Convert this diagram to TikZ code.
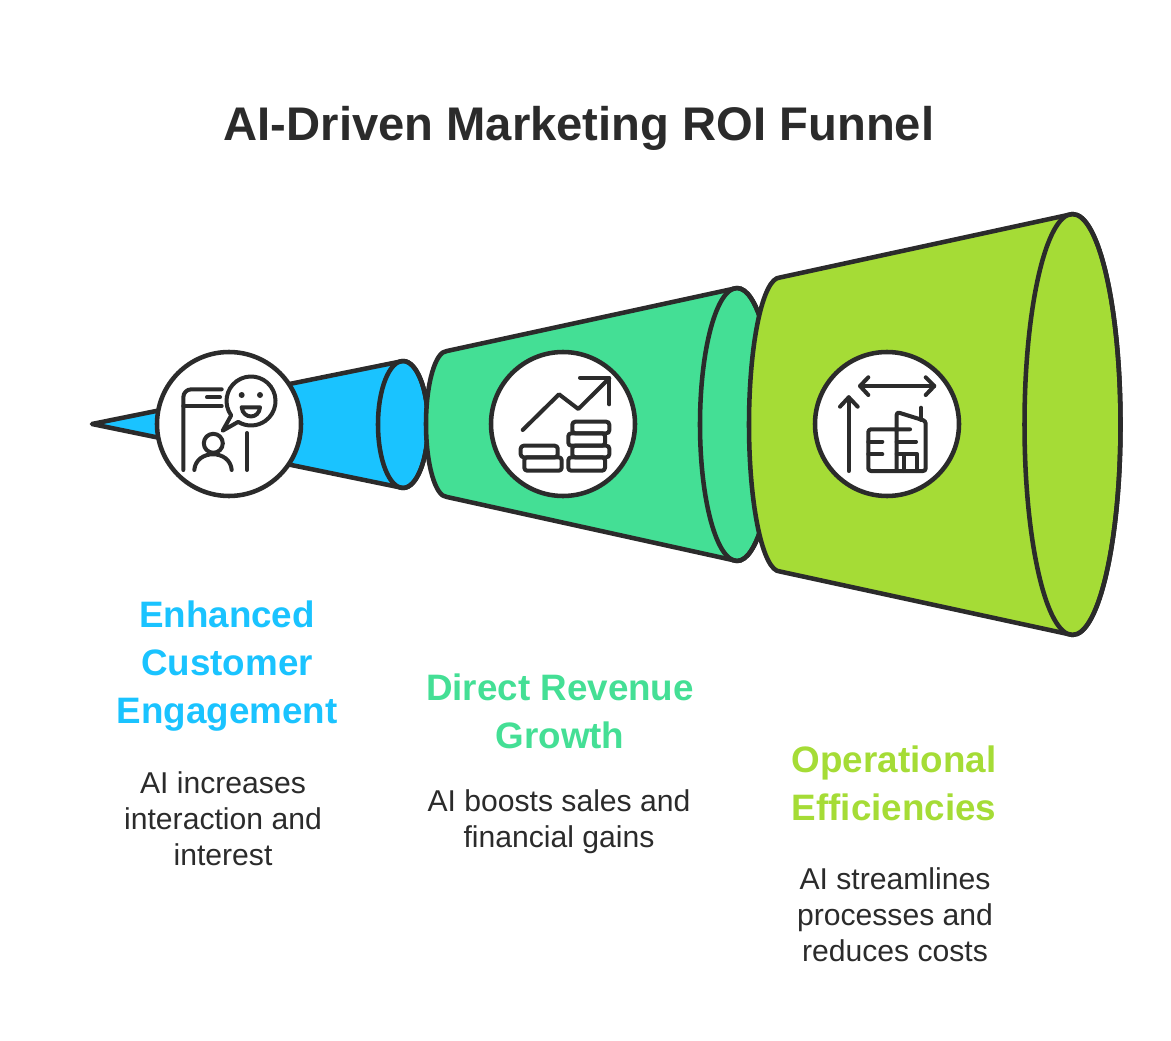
\documentclass[tikz,border=0pt]{standalone}
\usepackage{fontspec}
\setmainfont{Liberation Sans}
\definecolor{inkc}{HTML}{2B2B2B}
\definecolor{bluec}{HTML}{1AC3FF}
\definecolor{mintc}{HTML}{44DF95}
\definecolor{limec}{HTML}{A5DC36}
\tikzset{
  funnel/.style={draw=inkc,line width=3.4pt,line join=round},
  badge/.style={circle,fill=white,draw=inkc,line width=3.4pt,minimum size=108pt,inner sep=0pt},
  icon/.style={draw=inkc,line width=3pt,line cap=round,line join=round},
  coin/.style={icon,rounded corners=2.2pt},
  heading/.style={font=\bfseries\fontsize{27.6}{36}\selectfont,align=center},
  body/.style={text=inkc,font=\fontsize{22.6}{27}\selectfont,align=center},
}
\begin{document}
\begin{tikzpicture}[x=0.75pt,y=-0.75pt]
  \useasboundingbox (0,0) rectangle (1171,1041);
  \node[text=inkc,font=\bfseries\fontsize{35.4}{44}\selectfont] (title) at (579,128) {AI-Driven Marketing ROI Funnel};
  % first funnel part
  \draw[funnel,fill=bluec] (92,424) -- (403,361) arc[start angle=-90,end angle=90,x radius=25,y radius=63.5] -- cycle;
  \draw[funnel] (403,424.5) ellipse[x radius=25,y radius=63.5];
  % second funnel part
  \draw[funnel,fill=mintc] (447,497) arc[start angle=90,end angle=270,x radius=21,y radius=73] -- (737,288) arc[start angle=-90,end angle=90,x radius=37,y radius=136.5] -- cycle;
  \draw[funnel] (737,424.5) ellipse[x radius=37,y radius=136.5];
  % third funnel part
  \draw[funnel,fill=limec] (780,571.5) arc[start angle=90,end angle=270,x radius=31,y radius=147] -- (1072.5,214) arc[start angle=-90,end angle=90,x radius=48,y radius=210.5] -- cycle;
  \draw[funnel] (1072.5,424.5) ellipse[x radius=48,y radius=210.5];
  \node[badge] (engage) at (229,424) {};
  \node[badge] (revenue) at (563,424) {};
  \node[badge] (effic) at (887,424) {};
  % phone, person, speech bubble
  \draw[icon,rounded corners=6pt] (183.3,470) -- (183.3,389.3) -- (221.7,389.3);
  \draw[icon] (183.3,406) -- (221.7,406);
  \draw[icon] (207,397.3) -- (220,397.3);
  \draw[icon] (247,433) -- (247,470);
  \draw[icon] (213.3,443.3) circle[radius=9.5];
  \draw[icon] (194.3,470) .. controls (196,449) and (230,449) .. (231.7,470);
  \draw[icon] (231.2,415.4) arc[start angle=144,end angle=481.6,radius=24.5] -- (222.7,430.7) -- cycle;
  \fill[inkc] (241.7,395) circle[radius=3];
  \fill[inkc] (260,395) circle[radius=3];
  \draw[icon] (241.7,407.3) -- (260,407.3) .. controls (259,419.5) and (243,419.5) .. (241.7,407.3);
  % growth line and coins
  \draw[icon] (522.7,430) -- (559,394.3) -- (578.3,409) -- (609.3,378.3);
  \draw[icon] (580,377.7) -- (609.3,377.7) -- (609.3,404.3);
  \draw[coin] (572.3,421.7) rectangle (609.3,433.3);
  \draw[coin] (568.3,433.3) rectangle (605,445.7);
  \draw[coin] (572.3,445.7) rectangle (609.3,457.3);
  \draw[coin] (568.3,457.3) rectangle (605,470.7);
  \draw[coin] (520.7,445.7) rectangle (557.7,457.3);
  \draw[coin] (524.3,457.3) rectangle (561.7,470.7);
  % arrows and building
  \draw[icon] (848.7,471) -- (848.7,397.3);
  \draw[icon] (840,406.7) -- (848.7,397.3) -- (857.7,406.7);
  \draw[icon] (860,386) -- (934.3,386);
  \draw[icon] (868.3,377.3) -- (860,386) -- (868.3,395);
  \draw[icon] (925.7,377.3) -- (934.3,386) -- (925.7,395);
  \draw[icon,rounded corners=2pt] (910,429.3) -- (868.3,429.3) -- (868.3,471) -- (925.7,471) -- (925.7,421) -- (896.7,412) -- (896.7,471);
  \draw[icon] (921,407.7) -- (921,420);
  \draw[icon] (868.3,441.7) -- (882.3,441.7);
  \draw[icon] (868.3,454.3) -- (882.3,454.3);
  \draw[icon] (896.7,441.7) -- (916,441.7);
  \draw[icon] (896.7,454.3) -- (904.3,454.3);
  \draw[icon] (904.3,471) -- (904.3,454.3) -- (917.3,454.3) -- (917.3,471);
  % labels
  \node[heading,text=bluec] (engagehead) at (227,666) {Enhanced\\Customer\\Engagement};
  \node[body] (engagetext) at (223,819) {AI increases\\interaction and\\interest};
  \node[heading,text=mintc] (revenuehead) at (560,711) {Direct Revenue\\Growth};
  \node[body] (revenuetext) at (559,822) {AI boosts sales and\\financial gains};
  \node[heading,text=limec] (efficthead) at (894,783) {Operational\\Efficiencies};
  \node[body] (effictext) at (895,915) {AI streamlines\\processes and\\reduces costs};
\end{tikzpicture}
\end{document}
